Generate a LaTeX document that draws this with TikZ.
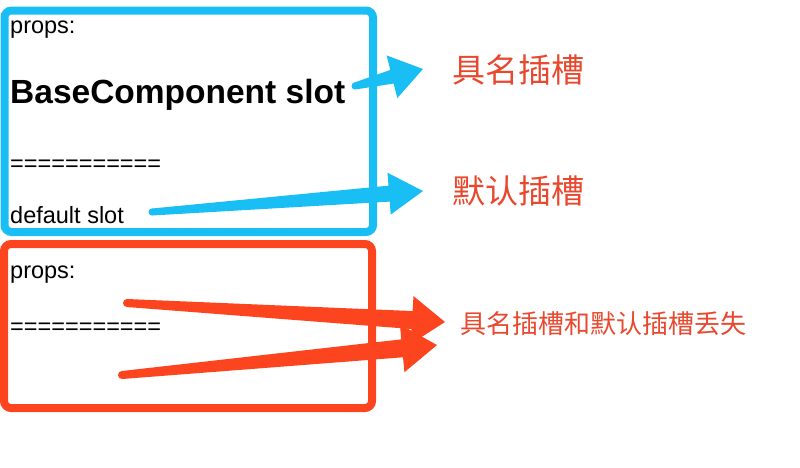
\documentclass[tikz,border=0pt]{standalone}
\usepackage{fontspec}
\setmainfont{Liberation Sans}
\newfontfamily\cjk{Noto Sans CJK SC}
\usetikzlibrary{calc}
\definecolor{boxblue}{RGB}{24,190,244}
\definecolor{boxred}{RGB}{252,68,30}
\definecolor{labelred}{RGB}{232,72,46}
% tail, tip, tail half width, shaft half width, head length, head half width, colour
\newcommand\fatarrow[7]{%
  \coordinate (#1-hb) at ($(#2)!#5!(#1)$);
  \fill[#7] ($(#1)!#3!90:(#2)$) -- ($(#1-hb)!#4!90:(#2)$) -- ($(#1-hb)!#6!90:(#2)$)
    -- (#2) -- ($(#1-hb)!#6!-90:(#2)$) -- ($(#1-hb)!#4!-90:(#2)$)
    -- ($(#1)!#3!-90:(#2)$) -- cycle;
  \fill[#7] (#1) circle[radius=#3];
}
\tikzset{
  frame/.style={line width=8pt, rounded corners=7pt},
  code/.style={anchor=base west, inner sep=0pt, font=\fontsize{23.5}{28}\selectfont},
  bigcode/.style={anchor=base west, inner sep=0pt, font=\fontsize{33.5}{40}\selectfont\bfseries},
  label/.style={inner sep=0pt, text=labelred, font=\cjk\fontsize{33}{38}\selectfont},
  smalllabel/.style={inner sep=0pt, text=labelred, font=\cjk\fontsize{26}{31}\selectfont},
}
\begin{document}
\begin{tikzpicture}[x=1pt,y=-1pt]
\useasboundingbox (0,0) rectangle (800,467);
% frames
\draw[frame, boxblue] (4.5,10.5) rectangle (373,232);
\draw[frame, boxred] (4,244) rectangle (372,408);
% code text, upper frame
\node[code] (p1) at (10,33) {props:};
\node[bigcode] (bc) at (10,103) {BaseComponent slot};
\node[code] (eq1) at (10,171) {===========};
\node[code] (ds) at (10,223) {default slot};
% code text, lower frame
\node[code] (p2) at (10,278) {props:};
\node[code] (eq2) at (10,334) {===========};
% labels
\node[label] (named) at (518,70) {具名插槽};
\node[label] (default) at (518,191) {默认插槽};
\node[smalllabel] (lost) at (603,324) {具名插槽和默认插槽丢失};
% arrow end points
\coordinate (a1t) at (355,86);
\coordinate (a1h) at (423,69);
\coordinate (a2t) at (152,212);
\coordinate (a2h) at (423,191);
\coordinate (a3t) at (127,303);
\coordinate (a3h) at (445,322);
\coordinate (a4t) at (122,375);
\coordinate (a4h) at (437,345);
% arrows
\fatarrow{a1t}{a1h}{3.5pt}{7pt}{32pt}{22pt}{boxblue}
\fatarrow{a2t}{a2h}{3.5pt}{8pt}{34pt}{21pt}{boxblue}
\fatarrow{a3t}{a3h}{4pt}{9pt}{33pt}{24pt}{boxred}
\fatarrow{a4t}{a4h}{4pt}{9pt}{35pt}{24pt}{boxred}
\end{tikzpicture}
\end{document}
